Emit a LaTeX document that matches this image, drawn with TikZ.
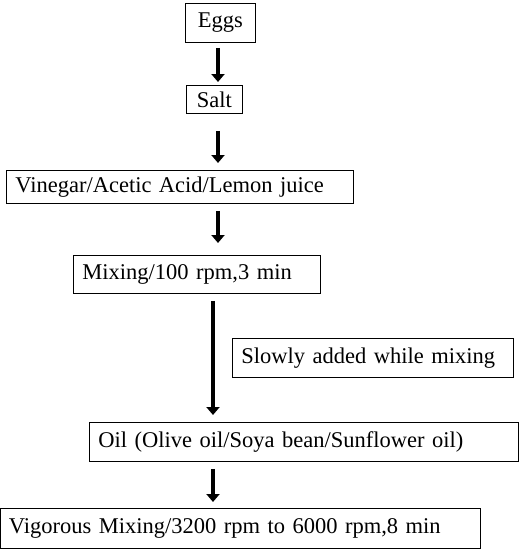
\documentclass[tikz,border=0pt]{standalone}
\usepackage{fontspec}
\setmainfont{Liberation Serif}
\usepackage{tikz}
\usetikzlibrary{arrows.meta}

\begin{document}
\begin{tikzpicture}[
  x=1pt, y=-1pt,
  stage/.style={draw,line width=0.8pt,anchor=north west,inner xsep=9pt,inner ysep=0pt,
    align=left,font=\fontsize{22.5}{27}\selectfont},
  flow/.style={line width=4.5pt,-{Triangle[width=13pt,length=8pt]},
    shorten <=#1},
  flow/.default=7pt
  ]
\useasboundingbox (0,0) rectangle (524,550);
\coordinate (upper) at (218,0);   % axis of the upper arrows
\coordinate (lower) at (213,0);   % axis of the lower arrows
\node[stage,align=center,text width=52pt,minimum height=39pt] (eggs) at (185,3) {Eggs};
\node[stage,align=center,text width=38pt,minimum height=28pt] (salt) at (186,85) {Salt};
\node[stage,text width=329pt,minimum height=33pt] (vinegar) at (6,170) {Vinegar/Acetic Acid/Lemon juice};
\node[stage,text width=229pt,minimum height=38pt] (mixing) at (73,255) {Mixing/100 rpm,3 min};
\node[stage,text width=263pt,minimum height=39pt] (slowly) at (232,338) {\mbox{Slowly added while mixing}};
\node[stage,text width=411pt,minimum height=39pt] (oil) at (89,422) {Oil (Olive oil/Soya bean/Sunflower oil)};
\node[stage,inner xsep=8pt,text width=463pt,minimum height=40pt] (vigorous) at (0.5,508) {Vigorous Mixing/3200 rpm to 6000 rpm,8 min};
\draw[flow=5pt,shorten >=3pt] (eggs.south -| upper) -- (salt.north -| upper);
\draw[flow=17pt,shorten >=7pt] (salt.south -| upper) -- (vinegar.north -| upper);
\draw[flow,shorten >=12pt] (vinegar.south -| upper) -- (mixing.north -| upper);
\draw[flow,shorten >=7pt] (mixing.south -| lower) -- (oil.north -| lower);
\draw[flow,shorten >=6pt] (oil.south -| lower) -- (vigorous.north -| lower);
\end{tikzpicture}
\end{document}
